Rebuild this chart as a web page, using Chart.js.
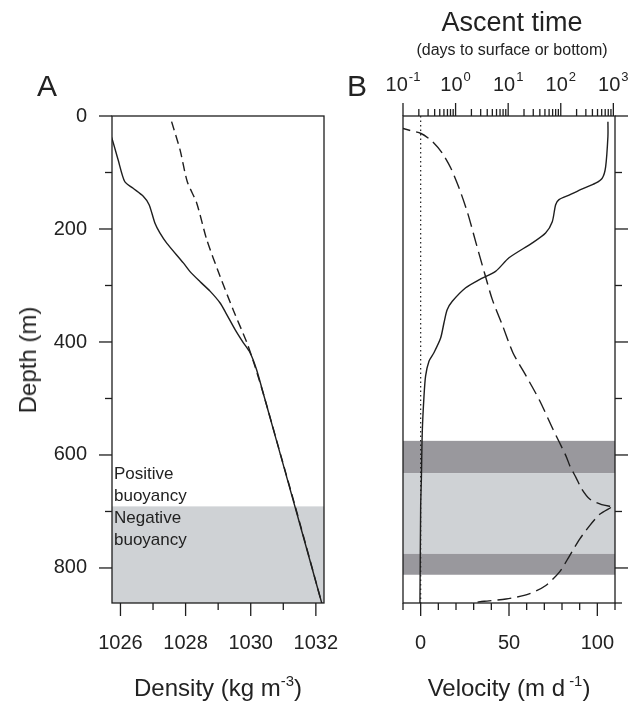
<!DOCTYPE html>
<html>
<head>
<meta charset="utf-8">
<script src="https://cdn.jsdelivr.net/npm/chart.js@4.4.1/dist/chart.umd.min.js"></script>
<style>
body{margin:0;background:#fff;width:633px;height:704px;overflow:hidden;position:relative;font-family:"Liberation Sans",Arial,sans-serif;color:#222}
canvas{position:absolute;top:0}
#cA{left:0}
#cB{left:345px}
.t{position:absolute;white-space:nowrap;transform:translate(-50%,-50%);line-height:1}
.t sup{font-size:0.62em;position:relative;top:-0.1em;vertical-align:super;line-height:0}
</style>
</head>
<body>
<canvas id="cA" width="345" height="704"></canvas>
<canvas id="cB" width="288" height="704"></canvas>
<div class="t" style="left:512px;top:22px;font-size:27px">Ascent time</div>
<div class="t" style="left:512px;top:50px;font-size:16px">(days to surface or bottom)</div>
<div class="t" style="left:47px;top:86px;font-size:30px">A</div>
<div class="t" style="left:357px;top:86px;font-size:30px">B</div>
<div class="t" style="left:28px;top:360px;font-size:24px;transform:translate(-50%,-50%) rotate(-90deg)">Depth (m)</div>
<div class="t" style="left:218px;top:688px;font-size:24px">Density (kg m<sup>-3</sup>)</div>
<div class="t" style="left:509px;top:688px;font-size:24px">Velocity (m d<sup> -1</sup>)</div>
<script>
// panel A: density profiles
const seaDepth = [20, 42, 78, 116, 128, 142, 157, 190, 207, 225, 260, 275, 293, 310, 331, 351, 378, 401, 419, 449, 496, 560, 700, 862];
const seaDensity = [1025.62, 1025.75, 1025.93, 1026.13, 1026.39, 1026.70, 1026.88, 1027.06, 1027.21, 1027.42, 1027.93, 1028.13, 1028.44, 1028.75, 1029.06, 1029.26, 1029.52, 1029.77, 1029.98, 1030.18, 1030.41, 1030.72, 1031.40, 1032.18];
const bodyDepth = [10, 60, 116, 154, 219, 284, 343, 401, 443, 500, 600, 700, 862];
const bodyDensity = [1027.57, 1027.83, 1028.05, 1028.34, 1028.65, 1029.06, 1029.46, 1029.88, 1030.13, 1030.43, 1030.92, 1031.41, 1032.18];
const neutralDepth = 691;

// panel B: velocity and ascent time
const velDepth = [10, 36, 90, 110, 119, 129, 140, 148, 157, 187, 207, 225, 251, 275, 290, 304, 328, 343, 366, 393, 419, 434, 460, 495, 560, 643, 691, 862];
const velocity = [106, 106, 104.7, 102.8, 99, 91.5, 84, 78.3, 76.4, 74.5, 70.7, 63, 50, 42.4, 33, 25.5, 17.9, 15, 13.2, 11.3, 7.5, 4.7, 2.8, 1.9, 0.9, 0.4, 0, -0.4];
const riseDepth = [15, 22, 31, 45, 66, 92, 128, 172, 225, 278, 325, 372, 419, 460, 504, 554, 602, 620, 640, 660, 678, 688, 691];
const riseDays = [0.08, 0.1, 0.22, 0.36, 0.56, 0.81, 1.17, 1.7, 2.45, 3.55, 5.0, 7.9, 12.3, 21.9, 39.8, 70.8, 126, 150, 195, 250, 355, 600, 900];
const sinkDepth = [693, 705, 725, 749, 778, 807, 831, 846, 855, 859, 862];
const sinkDays = [900, 550, 355, 229, 148, 95, 52, 25, 9.1, 3.5, 2.0];
const zeroDepth = [0, 862];
const zeroVel = [0, 0];
const bandTop = [575, 632, 775];
const bandBottom = [632, 775, 812];

// tick labels
const depthLabels = [0, 200, 400, 600, 800];
const densityLabels = [1026, 1028, 1030, 1032];
const velocityLabels = [0, 50, 100];
const ascentExponents = [-1, 0, 1, 2, 3];

const ink = '#1e1e1e';
const darkBand = '#99989d';
const lightBand = '#cfd2d5';

Chart.defaults.font.family = '"Liberation Sans", Arial, sans-serif';
Chart.defaults.font.size = 20;
Chart.defaults.color = '#222';

const pts = (xs, ys) => xs.map((x, i) => ({x: x, y: ys[i]}));
const has = (arr, v) => arr.some(a => Math.abs(a - v) < 1e-6);

function bandPlugin(list) {
  return {
    id: 'bands',
    beforeDatasetsDraw(chart) {
      const ctx = chart.ctx, a = chart.chartArea, ys = chart.scales.y;
      ctx.save();
      list.forEach(b => {
        const y1 = ys.getPixelForValue(b.from), y2 = ys.getPixelForValue(b.to);
        ctx.fillStyle = b.color;
        ctx.fillRect(a.left, y1, a.right - a.left, y2 - y1);
      });
      ctx.restore();
    }
  };
}

function frameTicks(marks) {
  return {
    id: 'frameTicks',
    afterDraw(chart) {
      const ctx = chart.ctx, a = chart.chartArea;
      ctx.save();
      ctx.strokeStyle = ink;
      ctx.lineWidth = 1.3;
      ctx.strokeRect(a.left, a.top, a.right - a.left, a.bottom - a.top);
      marks.forEach(m => {
        const s = chart.scales[m.axis];
        const vals = m.values ? m.values : s.ticks.map(t => t.value);
        vals.forEach(v => {
          const len = m.major(v) ? 13 : 7;
          const p = s.getPixelForValue(v);
          ctx.beginPath();
          if (m.side === 'left') { ctx.moveTo(a.left, p); ctx.lineTo(a.left - len, p); }
          if (m.side === 'right') { ctx.moveTo(a.right, p); ctx.lineTo(a.right + len, p); }
          if (m.side === 'bottom') { ctx.moveTo(p, a.bottom); ctx.lineTo(p, a.bottom + len); }
          if (m.side === 'top') { ctx.moveTo(p, a.top); ctx.lineTo(p, a.top - len); }
          ctx.stroke();
        });
      });
      ctx.restore();
    }
  };
}

const buoyancyText = {
  id: 'buoyancyText',
  afterDatasetsDraw(chart) {
    const ctx = chart.ctx, a = chart.chartArea;
    const y0 = chart.scales.y.getPixelForValue(neutralDepth);
    ctx.save();
    ctx.fillStyle = '#222';
    ctx.font = '17px "Liberation Sans", Arial, sans-serif';
    ctx.textBaseline = 'middle';
    ctx.fillText('Positive', a.left + 2, y0 - 32);
    ctx.fillText('buoyancy', a.left + 2, y0 - 10);
    ctx.fillText('Negative', a.left + 2, y0 + 12);
    ctx.fillText('buoyancy', a.left + 2, y0 + 34);
    ctx.restore();
  }
};

const powerLabels = {
  id: 'powerLabels',
  afterDraw(chart) {
    const ctx = chart.ctx, s = chart.scales.xTop;
    ctx.save();
    ctx.fillStyle = '#222';
    ctx.textBaseline = 'middle';
    ascentExponents.forEach(e => {
      const x = s.getPixelForValue(Math.pow(10, e));
      const sup = String(e);
      ctx.font = '20px "Liberation Sans", Arial, sans-serif';
      const wb = ctx.measureText('10').width;
      ctx.font = '13px "Liberation Sans", Arial, sans-serif';
      const we = ctx.measureText(sup).width;
      const x0 = x - (wb + we + 1) / 2;
      ctx.font = '20px "Liberation Sans", Arial, sans-serif';
      ctx.fillText('10', x0, 85);
      ctx.font = '13px "Liberation Sans", Arial, sans-serif';
      ctx.fillText(sup, x0 + wb + 1, 77);
    });
    ctx.restore();
  }
};

const hidden = {display: false, drawTicks: false};
const noBorder = {display: false};
const line = (data, dash, extra) => Object.assign({
  data: data, showLine: true, pointRadius: 0, borderColor: ink, borderWidth: 1.4,
  borderDash: dash, tension: 0.25, fill: false
}, extra || {});
const fixBox = (w, h) => s => {
  if (w !== null) s.width = w;
  if (h !== null) s.height = h;
  s.paddingLeft = 0; s.paddingRight = 0; s.paddingTop = 0; s.paddingBottom = 0;
};

new Chart(document.getElementById('cA'), {
  type: 'scatter',
  data: {
    datasets: [
      line(pts(seaDensity, seaDepth), []),
      line(pts(bodyDensity, bodyDepth), [9, 5])
    ]
  },
  options: {
    responsive: false, animation: false,
    layout: {padding: {top: 116, right: 21, left: 0, bottom: 0}},
    plugins: {legend: {display: false}, tooltip: {enabled: false}},
    scales: {
      x: {
        type: 'linear', position: 'bottom', min: 1025.74, max: 1032.25,
        grid: hidden, border: noBorder,
        ticks: {stepSize: 1, includeBounds: false, autoSkip: false, maxRotation: 0, padding: 28,
          callback: v => has(densityLabels, v) ? String(v) : ''},
        afterFit: fixBox(null, 101)
      },
      y: {
        type: 'linear', reverse: true, min: 0, max: 862,
        grid: hidden, border: noBorder,
        ticks: {stepSize: 100, includeBounds: false, autoSkip: false, padding: 25,
          callback: v => has(depthLabels, v) ? String(v) : ''},
        afterFit: fixBox(112, null)
      }
    }
  },
  plugins: [
    bandPlugin([{from: neutralDepth, to: 862, color: lightBand}]),
    frameTicks([
      {axis: 'y', side: 'left', major: v => has(depthLabels, v)},
      {axis: 'x', side: 'bottom', major: v => has(densityLabels, v)}
    ]),
    buoyancyText
  ]
});

const logMarks = [];
ascentExponents.forEach(e => {
  for (let k = 1; k <= 9; k++) {
    const v = k * Math.pow(10, e);
    if (v <= 1075) logMarks.push(v);
  }
});

new Chart(document.getElementById('cB'), {
  type: 'scatter',
  data: {
    datasets: [
      line(pts(zeroVel, zeroDepth), [1.5, 3], {borderWidth: 1.2, tension: 0}),
      line(pts(velocity, velDepth), []),
      line(pts(riseDays, riseDepth), [14, 6], {xAxisID: 'xTop'}),
      line(pts(sinkDays, sinkDepth), [14, 6], {xAxisID: 'xTop'})
    ]
  },
  options: {
    responsive: false, animation: false,
    layout: {padding: {top: 0, right: 18, left: 0, bottom: 0}},
    plugins: {legend: {display: false}, tooltip: {enabled: false}},
    scales: {
      x: {
        type: 'linear', position: 'bottom', min: -10, max: 110,
        grid: hidden, border: noBorder,
        ticks: {stepSize: 10, autoSkip: false, maxRotation: 0, padding: 28,
          callback: v => has(velocityLabels, v) ? String(v) : ''},
        afterFit: fixBox(null, 101)
      },
      xTop: {
        type: 'logarithmic', position: 'top', min: 0.1, max: 1075,
        grid: hidden, border: noBorder, ticks: {display: false},
        afterFit: fixBox(null, 116)
      },
      y: {
        type: 'linear', reverse: true, min: 0, max: 862,
        grid: hidden, border: noBorder,
        ticks: {display: false, stepSize: 100},
        afterFit: fixBox(58, null)
      }
    }
  },
  plugins: [
    bandPlugin(bandTop.map((t, i) => ({from: t, to: bandBottom[i], color: i === 1 ? lightBand : darkBand}))),
    frameTicks([
      {axis: 'y', side: 'right', major: v => has(depthLabels, v)},
      {axis: 'x', side: 'bottom', major: v => has(velocityLabels, v)},
      {axis: 'xTop', side: 'top', values: logMarks, major: v => ascentExponents.some(e => Math.abs(Math.pow(10, e) - v) < 1e-9)}
    ]),
    powerLabels
  ]
});
</script>
</body>
</html>
